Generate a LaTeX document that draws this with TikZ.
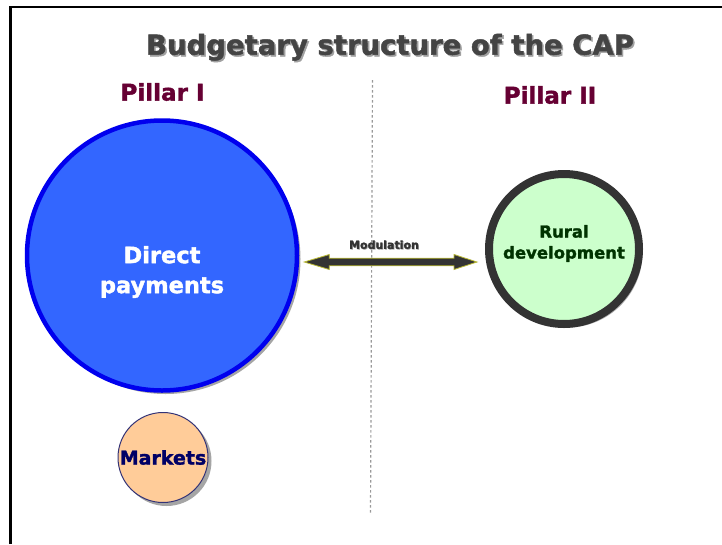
\documentclass[tikz,border=0pt]{standalone}
\usepackage{fontspec}
\setmainfont{DejaVu Sans}[BoldFeatures={FakeBold=1.6}]
\usetikzlibrary{shadows,calc}
\definecolor{titlegray}{HTML}{444444}
\definecolor{titleshadow}{HTML}{A0A0A0}
\definecolor{pillarred}{HTML}{660033}
\definecolor{dpfill}{HTML}{3366FF}
\definecolor{dpedge}{HTML}{0000EE}
\definecolor{mkfill}{HTML}{FFCC99}
\definecolor{mkedge}{HTML}{333377}
\definecolor{mktext}{HTML}{000066}
\definecolor{rdfill}{HTML}{CCFFCC}
\definecolor{rdedge}{HTML}{333333}
\definecolor{rdtext}{HTML}{003300}
\definecolor{arrowfill}{HTML}{333333}
\definecolor{arrowedge}{HTML}{BBBB33}
\definecolor{dashgray}{HTML}{999999}
\tikzset{
  pillar/.style={text=pillarred, font=\bfseries\fontsize{23}{23}\selectfont, inner sep=0pt},
  shadowed/.style={drop shadow={shadow xshift=3.5pt, shadow yshift=-3.5pt, opacity=0.5, fill=black!70}},
  bubble/.style={circle, inner sep=0pt, align=center, shadowed},
}
\begin{document}
\begin{tikzpicture}[x=1pt,y=-1pt]
\useasboundingbox (0,0) rectangle (722,544);
\fill[white] (0,0) rectangle (722,544);
% frame
\draw[line width=2.8pt] (10.5,544) -- (10.5,7) -- (722,7);
% title
\node[font=\bfseries\fontsize{27.5}{27.5}\selectfont, text=titlegray, inner sep=0pt] (title) at (390,48)
  {\rlap{\hspace{1.6pt}\raisebox{-1.6pt}{\color{titleshadow}Budgetary structure of the CAP}}Budgetary structure of the CAP};
\node[pillar] (p1) at (162.5,92) {Pillar I};
\node[pillar] (p2) at (550,95) {Pillar II};
% divider
\coordinate (dtop) at (372.5,80);
\coordinate (dbot) at (370.5,514);
\draw[dashgray, line width=1.2pt, dash pattern=on 2.5pt off 2.5pt] (dtop) -- (dbot);
% circles
\node[bubble, minimum size=270pt, fill=dpfill, draw=dpedge, line width=4.5pt,
      label={[name=dptxt, yshift=-16.5pt, align=center, text=white, inner sep=0pt,
              font=\bfseries\fontsize{22.5}{30}\selectfont]center:Direct\\payments}] (dp) at (162,255.5) {};
\node[bubble, minimum size=90pt, fill=mkfill, draw=mkedge, line width=1pt,
      text=mktext, font=\bfseries\fontsize{19}{19}\selectfont] (mk) at (163,457.5) {Markets};
\node[bubble, minimum size=150pt, fill=rdfill, draw=rdedge, line width=8pt,
      label={[name=rdtxt, yshift=5.5pt, align=center, text=rdtext, inner sep=0pt,
              font=\bfseries\fontsize{16.5}{21}\selectfont]center:Rural\\development}] (rd) at (564,249) {};
% modulation arrow
\coordinate (ml) at ($(dp.east)+(5,6.5)$);
\coordinate (mr) at ($(rd.west)+(-8,13)$);
\fill[arrowfill, draw=arrowedge, line width=0.8pt, line join=miter]
  (ml) -- ($(ml)+(25,-7.5)$) -- ($(ml)+(25,-3.8)$) -- ($(mr)+(-23,-3.8)$) -- ($(mr)+(-23,-7.5)$)
  -- (mr) -- ($(mr)+(-23,7.5)$) -- ($(mr)+(-23,3.8)$) -- ($(ml)+(25,3.8)$) -- ($(ml)+(25,7.5)$) -- cycle;
\node[font=\bfseries\fontsize{11}{11}\selectfont, text=arrowfill, inner sep=0pt] (mod) at (384,245)
  {\rlap{\hspace{0.7pt}\raisebox{-0.7pt}{\color{titleshadow}Modulation}}Modulation};
\end{tikzpicture}
\end{document}
